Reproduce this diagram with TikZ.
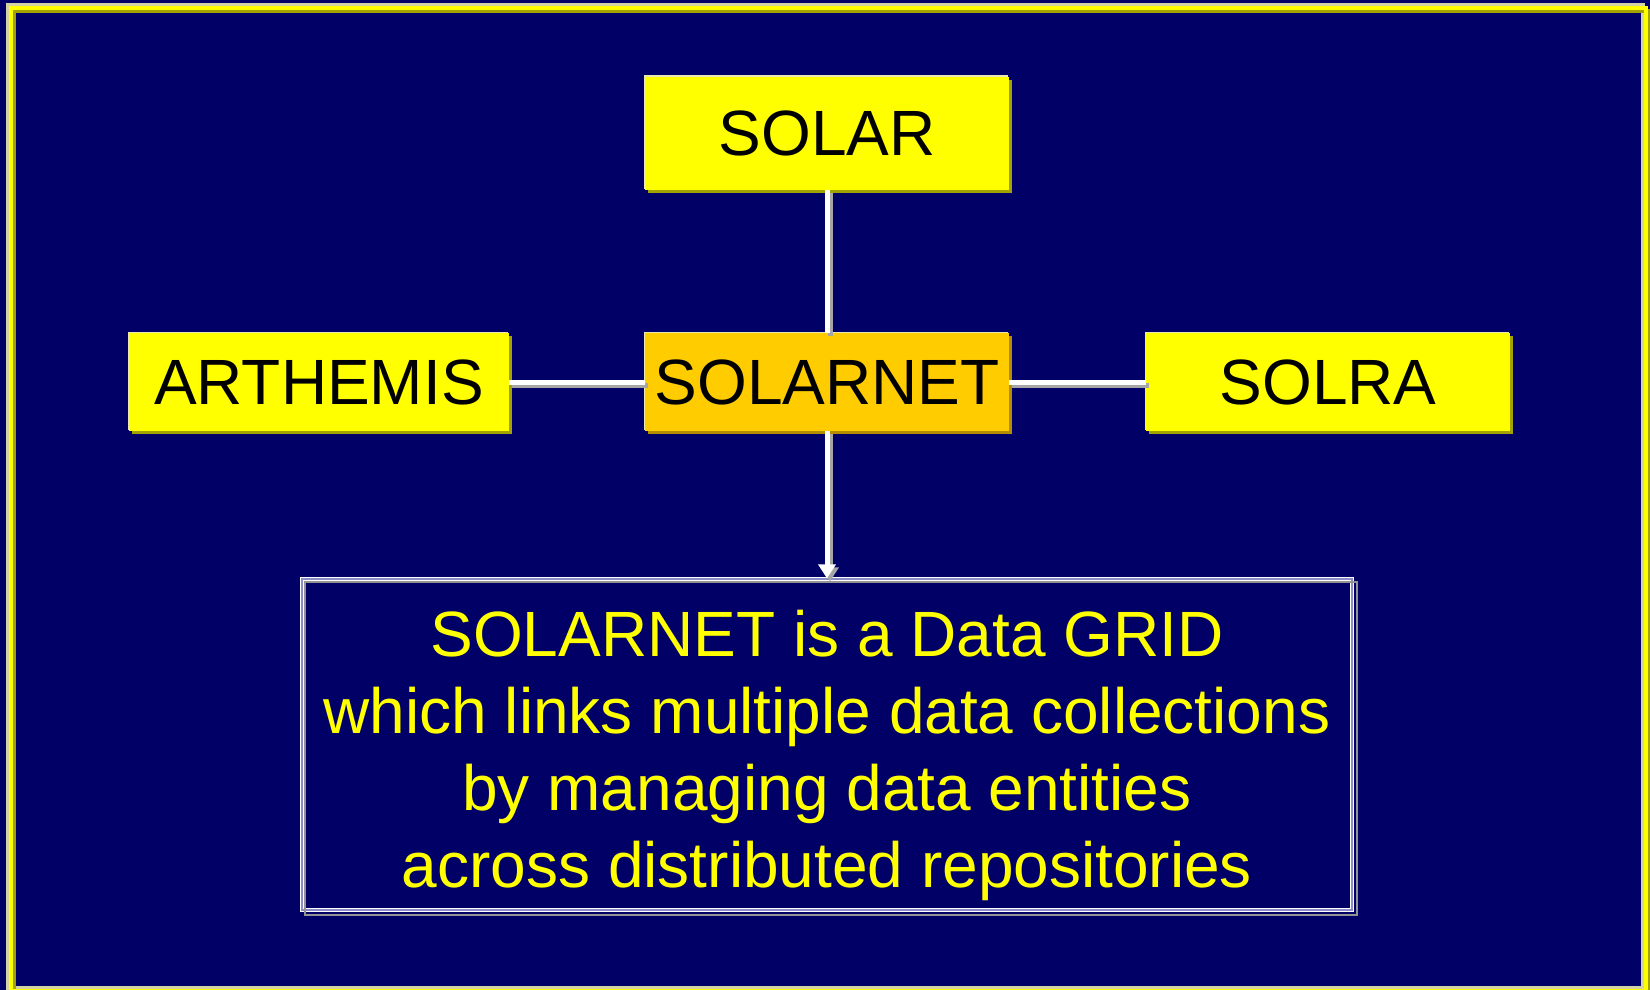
\documentclass[tikz,border=0pt]{standalone}
\usepackage{fontspec}
\setmainfont{Liberation Sans}
\usetikzlibrary{shadows,arrows.meta}
\definecolor{bg}{HTML}{000066}
\definecolor{yel}{HTML}{FFFF00}
\definecolor{org}{HTML}{FFCC00}
\definecolor{olv}{HTML}{A3A300}
\definecolor{dorg}{HTML}{B38F00}
\definecolor{hil}{HTML}{E8E8B0}
\definecolor{lav}{HTML}{8C8CC8}
\tikzset{
  tagbox/.style={rectangle, fill=yel, minimum width=364pt, minimum height=113pt,
    inner sep=0pt, text=black, font=\fontsize{64}{77}\selectfont,
    general shadow={shadow xshift=-1.5pt, shadow yshift=1.5pt, fill=hil, opacity=1},
    drop shadow={shadow xshift=3pt, shadow yshift=-3pt, fill=olv, opacity=1}},
  hubbox/.style={tagbox, fill=org, minimum height=98pt,
    general shadow={shadow xshift=-1.5pt, shadow yshift=1.5pt, fill=hil, opacity=1},
    drop shadow={shadow xshift=3pt, shadow yshift=-3pt, fill=dorg, opacity=1}},
  descbox/.style={rectangle, draw=white, double=lav, double distance=1.2pt, line width=1.2pt,
    minimum width=1050pt, minimum height=331pt, inner sep=0pt, align=center,
    text=yel, font=\fontsize{64}{77}\selectfont},
  descshadow/.style={draw=gray!85, line width=2pt},
  conn/.style={draw=white, line width=5pt},
  connshadow/.style={draw=gray!70, line width=5pt},
  tip/.style={-{Triangle[width=17pt,length=14pt]}},
  frameline/.style={line width=4pt}
}
\begin{document}
\begin{tikzpicture}[x=1pt,y=-1pt]
\useasboundingbox (0,0) rectangle (1650,990);
\fill[bg] (0,0) rectangle (1650,990);
% frame
\draw[frameline, hil!80!gray] (8,5) rectangle (1643,988);
\draw[frameline, olv] (14,11) rectangle (1649,994);
\draw[frameline, yel] (11,8) rectangle (1646,991);
% nodes
\node[tagbox] (solar) at (827,133.5) {SOLAR};
\node[tagbox, minimum width=380pt, minimum height=98pt] (art) at (319,382) {ARTHEMIS};
\node[hubbox] (sn) at (827,382) {SOLARNET};
\node[tagbox, minimum height=98pt] (solra) at (1328,382) {SOLRA};
% description box
\node[descbox] (desc) at (827,744.5) {\rule{0pt}{68pt}SOLARNET is a Data GRID\\which links multiple data collections\\by managing data entities\\across distributed repositories};
\draw[descshadow] ([shift={(4,4)}]desc.north west) rectangle ([shift={(4,4)}]desc.south east);
% connectors (shadows first)
\begin{scope}[transform canvas={shift={(3pt,-3pt)}}]
\draw[connshadow] (solar.south) -- (sn.north);
\draw[connshadow] (art.east) -- (sn.west);
\draw[connshadow] (sn.east) -- (solra.west);
\draw[connshadow, tip] (sn.south) -- (desc.north);
\end{scope}
\draw[conn] (solar.south) -- (sn.north);
\draw[conn] (art.east) -- (sn.west);
\draw[conn] (sn.east) -- (solra.west);
\draw[conn, tip] (sn.south) -- (desc.north);
\end{tikzpicture}
\end{document}
